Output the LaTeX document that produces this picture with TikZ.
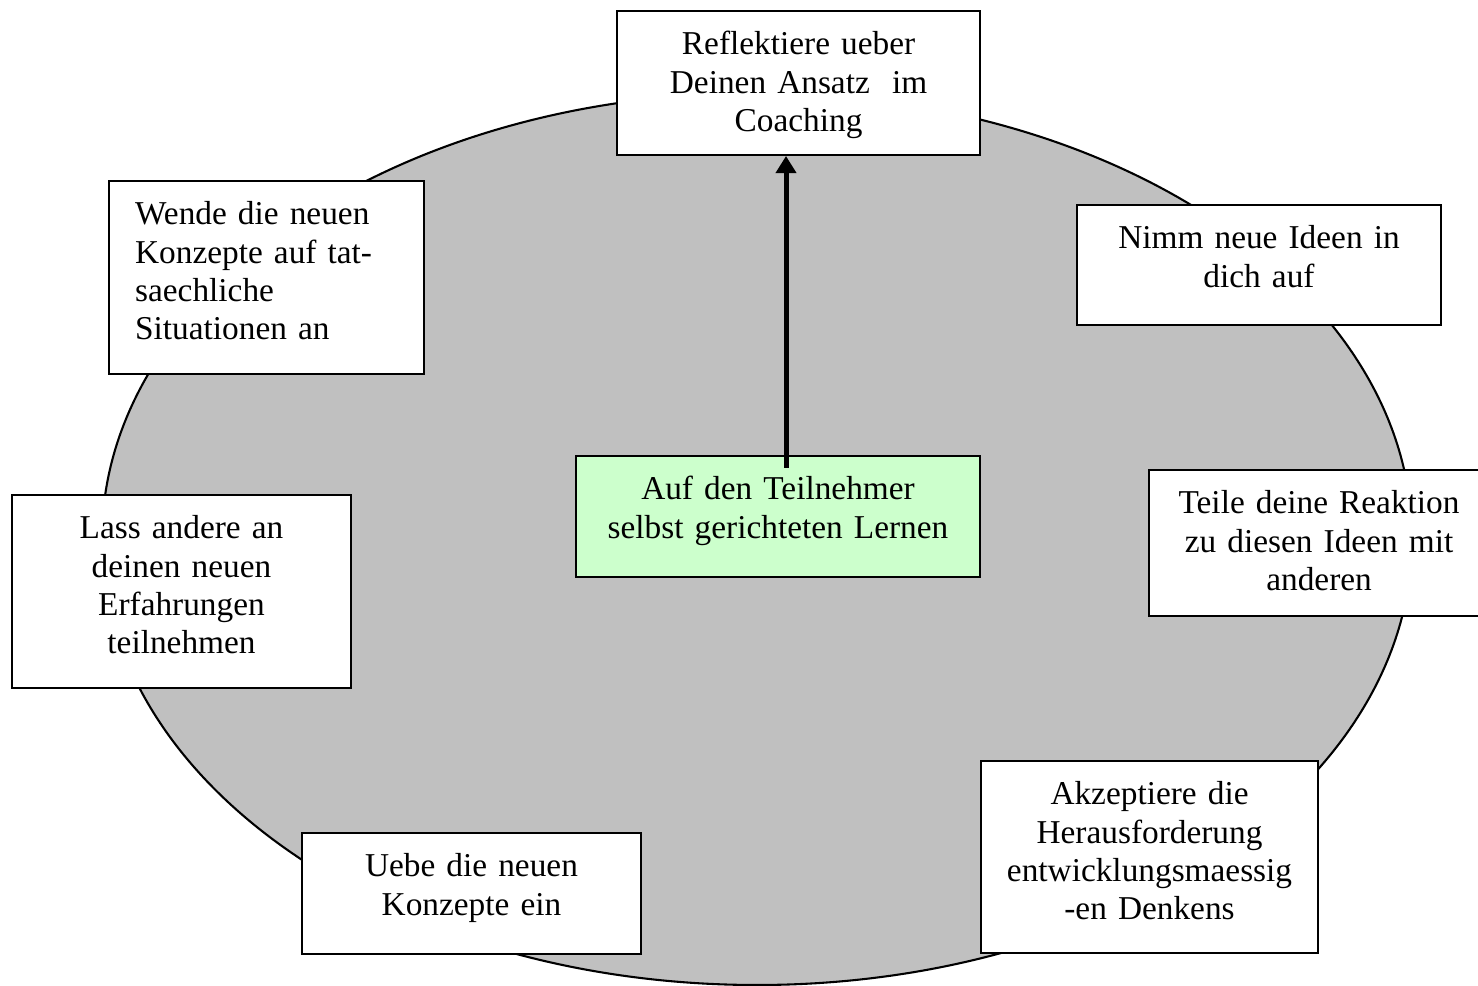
\documentclass[tikz,border=0pt]{standalone}
\usepackage{fontspec}
\setmainfont{Liberation Serif}
\usepackage{tikz}
\usetikzlibrary{positioning,arrows.meta}
\definecolor{ringgray}{RGB}{192,192,192}
\definecolor{learngreen}{RGB}{204,255,204}

\begin{document}
\begin{tikzpicture}[x=0.36pt,y=-0.36pt,>=Triangle,
card/.style={draw,line width=0.75pt,fill=white,anchor=north west,inner xsep=0pt,inner ysep=0pt,align=center,text height=15.8pt,font=\fontsize{12}{13.8}\selectfont}]
\clip (0,0) rectangle (1478,986);
% ring behind the cards
\draw[line width=0.75pt,fill=ringgray] (757,539) ellipse [x radius=235.8pt,y radius=160.56pt];
\node[card,text width=130.7pt,text depth=36pt] (refl) at (616,10) {Reflektiere ueber\\Deinen Ansatz~\ im\\Coaching};
\node[card,align=left,inner xsep=9.4pt,text width=94.6pt,text depth=53.7pt] (apply) at (108,180) {Wende die neuen\\Konzepte auf tat-\\saechliche\\Situationen an};
\node[card,text width=131pt,text depth=27.4pt] (ideas) at (1076,204) {Nimm neue Ideen in\\dich auf};
\node[card,text width=122pt,text depth=53.7pt] (share) at (11,494) {Lass andere an\\deinen neuen\\Erfahrungen\\teilnehmen};
\node[card,text width=122.4pt,text depth=36.8pt] (react) at (1148,469) {Teile deine Reaktion\\zu diesen Ideen mit\\anderen};
\node[card,fill=learngreen,text width=145.4pt,text depth=27.8pt] (learner) at (575,455) {Auf den Teilnehmer\\selbst gerichteten Lernen};
\node[card,text width=122pt,text depth=27.8pt] (practice) at (301,832) {Uebe die neuen\\Konzepte ein};
\node[card,text width=121.3pt,text depth=53.3pt] (challenge) at (980,760) {Akzeptiere die\\Herausforderung\\entwicklungsmaessig\\-en Denkens};
\coordinate (foot) at (786,468);
\draw[line width=1.8pt,{Triangle[length=6.2pt,width=7.2pt]}-] (foot |- refl.south) -- (foot);
\end{tikzpicture}
\end{document}
